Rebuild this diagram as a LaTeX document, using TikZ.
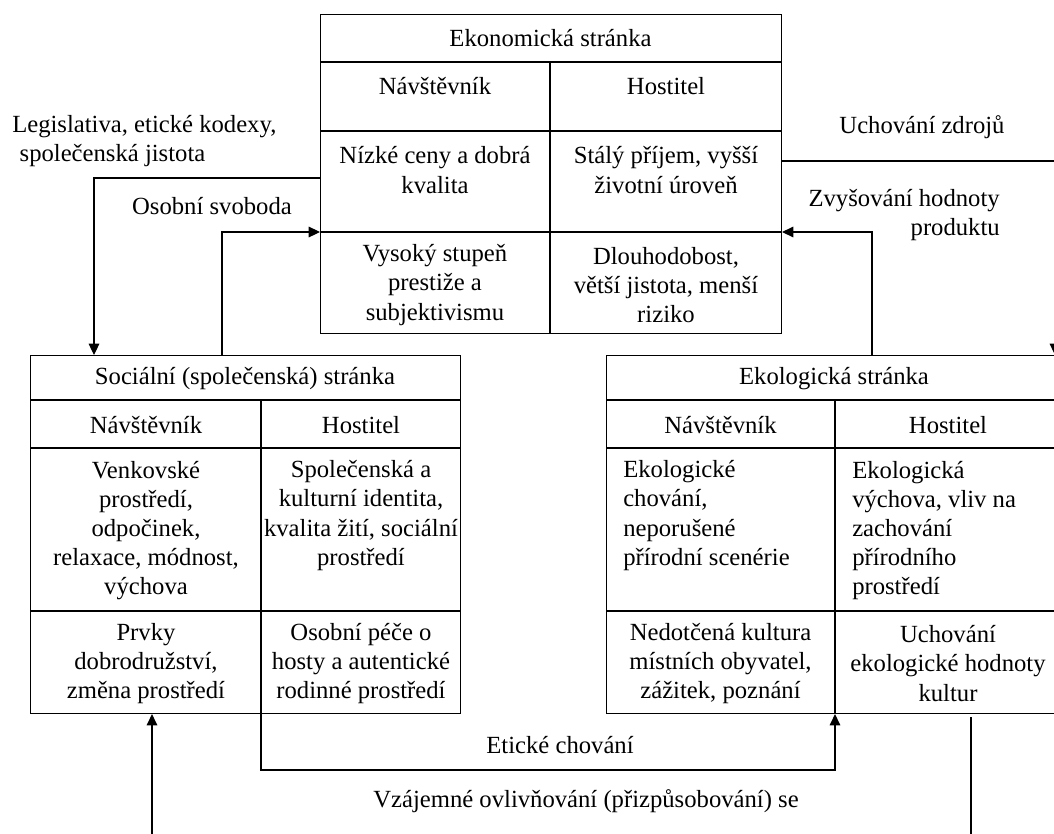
\documentclass[tikz,border=0pt]{standalone}
\usepackage{fontspec}
\setmainfont{Liberation Serif}
\usetikzlibrary{arrows.meta}
\begin{document}
\begin{tikzpicture}[x=0.75pt,y=-0.75pt,
  txt/.style={font=\fontsize{18.5pt}{21.9pt}\selectfont, align=center, inner sep=0pt},
  ltxt/.style={txt, align=left, anchor=west},
  box/.style={draw, line width=0.8pt, inner sep=0pt, anchor=north west},
  conn/.style={line width=0.8pt},
  arr/.style={conn, -{Triangle[length=8.5pt,width=8pt]}}]
\path[use as bounding box] (0,0) rectangle (1054,833);
\clip (0,0) rectangle (1054,833);
\fill[white] (0,0) rectangle (1054,833);

% ---------- Ekonomicka strana ----------
\node[box, minimum width=345.75pt, minimum height=239.25pt] (eko) at (320,14) {};
\draw[conn] (320,62) -- (781,62);
\draw[conn] (320,131) -- (781,131);
\draw[conn] (320,232) -- (781,232);
\draw[conn] (550,62) -- (550,333);
\node[txt] (ekoT) at (550.5,38) {Ekonomická stránka};
\node[txt] (ekoN) at (435,86) {Návštěvník};
\node[txt] (ekoH) at (666,86) {Hostitel};
\node[txt] (eko1) at (435,170) {Nízké ceny a dobrá\\kvalita};
\node[txt] (eko2) at (666,170) {Stálý příjem, vyšší\\životní úroveň};
\node[txt] (eko3) at (435,285) {Vysoký stupeň\\prestiže a\\subjektivismu};
\node[txt] (eko4) at (666,285) {Dlouhodobost,\\větší jistota, menší\\riziko};

% ---------- Socialni strana ----------
\node[box, minimum width=322.5pt, minimum height=268.5pt] (soc) at (30,355) {};
\draw[conn] (30,400) -- (460,400);
\draw[conn] (30,448) -- (460,448);
\draw[conn] (30,611) -- (460,611);
\draw[conn] (261,400) -- (261,713);
\node[txt] (socT) at (245,379) {Sociální (společenská) stránka};
\node[txt] (socN) at (146,425) {Návštěvník};
\node[txt] (socH) at (361,425) {Hostitel};
\node[txt] (soc1) at (146,530.5) {Venkovské\\prostředí,\\odpočinek,\\relaxace, módnost,\\výchova};
\node[txt] (soc2) at (361,515.5) {Společenská a\\kulturní identita,\\kvalita žití, sociální\\prostředí};
\node[txt] (soc3) at (146,663.5) {Prvky\\dobrodružství,\\změna prostředí};
\node[txt] (soc4) at (361,663.5) {Osobní péče o\\hosty a autentické\\rodinné prostředí};

% ---------- Ekologicka strana ----------
\node[box, minimum width=342pt, minimum height=268.5pt] (ekol) at (606,355) {};
\draw[conn] (606,400) -- (1062,400);
\draw[conn] (606,448) -- (1062,448);
\draw[conn] (606,611) -- (1062,611);
\draw[conn] (835,400) -- (835,713);
\node[txt] (ekolT) at (834,379) {Ekologická stránka};
\node[txt] (ekolN) at (720.5,425) {Návštěvník};
\node[txt] (ekolH) at (948,425) {Hostitel};
\node[ltxt] (ekol1) at (623,515.5) {Ekologické\\chování,\\neporušené\\přírodní scenérie};
\node[ltxt] (ekol2) at (852,530.5) {Ekologická\\výchova, vliv na\\zachování\\přírodního\\prostředí};
\node[txt] (ekol3) at (720.5,663.5) {Nedotčená kultura\\místních obyvatel,\\zážitek, poznání};
\node[txt] (ekol4) at (948,663.5) {Uchování\\ekologické hodnoty\\kultur};

% ---------- labels ----------
\node[ltxt] (lLeg) at (12,141) {Legislativa, etické kodexy,\\\hspace{0.3em}společenská jistota};
\node[txt] (lOs) at (212,206) {Osobní svoboda};
\node[txt] (lUch) at (922,127) {Uchování zdrojů};
\node[txt, align=right, anchor=east] (lZv) at (1000,215) {Zvyšování hodnoty\\produktu};
\node[txt] (lEt) at (560,745) {Etické chování};
\node[txt] (lVz) at (586,801) {Vzájemné ovlivňování (přizpůsobování) se};

% ---------- connectors ----------
\coordinate (c1) at (94,178);
\coordinate (c2) at (222,232);
\coordinate (c3) at (1055,161);
\coordinate (c4) at (872,232);
\coordinate (c5a) at (261,770);
\coordinate (c5b) at (835,770);
\coordinate (c6) at (152,845);
\coordinate (c7a) at (971,717);
\coordinate (c7b) at (971,845);

\draw[arr] (eko.west |- c1) -| (soc.north -| c1);
\draw[arr] (soc.north -| c2) |- (eko.west |- c2);
\draw[arr] (eko.east |- c3) -| (ekol.north -| c3);
\draw[arr] (ekol.north -| c4) |- (eko.east |- c4);
\draw[arr] (soc.south -| c5a) -- (c5a) -- (c5b) -- (ekol.south -| c5b);
\draw[arr] (c6) -- (soc.south -| c6);
\draw[conn] (c7a) -- (c7b);
\end{tikzpicture}
\end{document}
